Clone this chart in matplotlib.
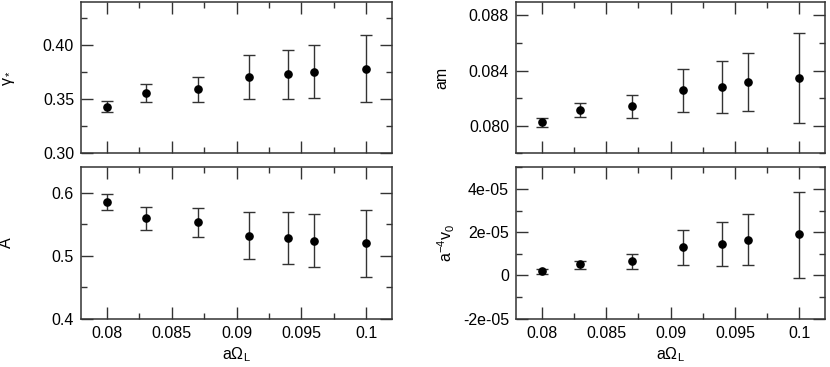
import matplotlib
matplotlib.use("Agg")
import matplotlib.pyplot as plt
from matplotlib.ticker import MultipleLocator

plt.rcParams['font.family'] = ['Liberation Sans', 'DejaVu Sans']
plt.rcParams['mathtext.fontset'] = 'custom'
plt.rcParams['mathtext.rm'] = 'Liberation Sans'
plt.rcParams['mathtext.it'] = 'Liberation Sans'

# ---- data ----
a_omega = [0.080, 0.083, 0.087, 0.091, 0.094, 0.096, 0.100]

gamma_val = [0.3431, 0.3557, 0.3591, 0.3705, 0.3729, 0.3754, 0.3782]
gamma_hi = [0.3486, 0.3643, 0.3705, 0.3908, 0.3954, 0.3997, 0.4089]
gamma_lo = [0.3378, 0.3471, 0.3474, 0.3502, 0.3502, 0.3511, 0.3477]

A_val = [0.5857, 0.5597, 0.5528, 0.5316, 0.5279, 0.5236, 0.5194]
A_hi = [0.5979, 0.5777, 0.5756, 0.5698, 0.5692, 0.5660, 0.5719]
A_lo = [0.5729, 0.5411, 0.5294, 0.4944, 0.4865, 0.4812, 0.4663]

am_val = [0.08024, 0.08112, 0.08141, 0.08257, 0.08284, 0.08315, 0.08349]
am_hi = [0.08058, 0.08162, 0.08223, 0.08412, 0.08468, 0.08526, 0.08674]
am_lo = [0.07993, 0.08061, 0.08056, 0.08099, 0.08095, 0.08104, 0.08022]

v0_val = [1.9e-6, 5.2e-6, 6.6e-6, 13.0e-6, 14.5e-6, 16.4e-6, 19.1e-6]
v0_hi = [3.0e-6, 6.9e-6, 10.0e-6, 20.8e-6, 24.5e-6, 28.4e-6, 38.6e-6]
v0_lo = [0.8e-6, 3.1e-6, 3.0e-6, 5.0e-6, 4.4e-6, 4.8e-6, -1.1e-6]

x_ticks = [0.08, 0.085, 0.09, 0.095, 0.1]
x_ticklabels = ["0.08", "0.085", "0.09", "0.095", "0.1"]
gamma_ticks = [0.30, 0.35, 0.40]
gamma_ticklabels = ["0.30", "0.35", "0.40"]
A_ticks = [0.4, 0.5, 0.6]
A_ticklabels = ["0.4", "0.5", "0.6"]
am_ticks = [0.080, 0.084, 0.088]
am_ticklabels = ["0.080", "0.084", "0.088"]
v0_ticks = [-2e-05, 0, 2e-05, 4e-05]
v0_ticklabels = ["-2e-05", "0", "2e-05", "4e-05"]

# ---- layout ----
W, H = 830, 367
fig = plt.figure(figsize=(W / 100, H / 100), dpi=100)

def rect(x0, y0, x1, y1):
    return [x0 / W, 1 - y1 / H, (x1 - x0) / W, (y1 - y0) / H]

ax_g = fig.add_axes(rect(81, 1.7, 392, 153.3))
ax_A = fig.add_axes(rect(81, 167.3, 392, 318.7))
ax_m = fig.add_axes(rect(516, 1.7, 825, 153.3))
ax_v = fig.add_axes(rect(516, 167.3, 825, 318.7))

EC = '#333333'
FS = 11.5

def panel(ax, y, hi, lo, ylim, yticks, yticklabels, yminor, ylabel, show_x, ylabel_x):
    yerr = [[v - l for v, l in zip(y, lo)], [h - v for v, h in zip(y, hi)]]
    ax.errorbar(a_omega, y, yerr=yerr, fmt='o', color='black', ms=5.2,
                ecolor=EC, elinewidth=1.0, capsize=4.5, capthick=1.0, zorder=3)
    ax.set_xlim(0.078, 0.102)
    ax.set_ylim(*ylim)
    ax.set_xticks(x_ticks)
    ax.xaxis.set_minor_locator(MultipleLocator(0.0025))
    ax.set_yticks(yticks)
    ax.set_yticklabels(yticklabels)
    ax.yaxis.set_minor_locator(MultipleLocator(yminor))
    if show_x:
        ax.set_xticklabels(x_ticklabels)
        ax.set_xlabel(r'a$\Omega_{\rm L}$', fontsize=FS)
        ax.xaxis.set_label_coords(0.5, -0.175)
    else:
        ax.set_xticklabels([])
    ax.tick_params(which='both', direction='in', top=True, right=True,
                   color=EC, width=1.0, labelsize=FS)
    ax.tick_params(which='major', length=8.5, pad=5)
    ax.tick_params(which='minor', length=4.3)
    for s in ax.spines.values():
        s.set_color(EC)
        s.set_linewidth(1.1)
    ax.set_ylabel(ylabel, fontsize=FS)
    ax.yaxis.set_label_coords(ylabel_x, 0.5)

panel(ax_g, gamma_val, gamma_hi, gamma_lo, (0.30, 0.44), gamma_ticks,
      gamma_ticklabels, 0.025, r'$\gamma_*$', False, -0.205)
panel(ax_A, A_val, A_hi, A_lo, (0.4, 0.64), A_ticks, A_ticklabels, 0.05,
      'A', True, -0.215)
panel(ax_m, am_val, am_hi, am_lo, (0.078, 0.089), am_ticks, am_ticklabels,
      0.002, 'am', False, -0.215)
panel(ax_v, v0_val, v0_hi, v0_lo, (-2e-05, 5e-05), v0_ticks, v0_ticklabels,
      1e-05, r'a$^{-4}$v$_0$', True, -0.19)

fig.savefig('out.png', dpi=100)
